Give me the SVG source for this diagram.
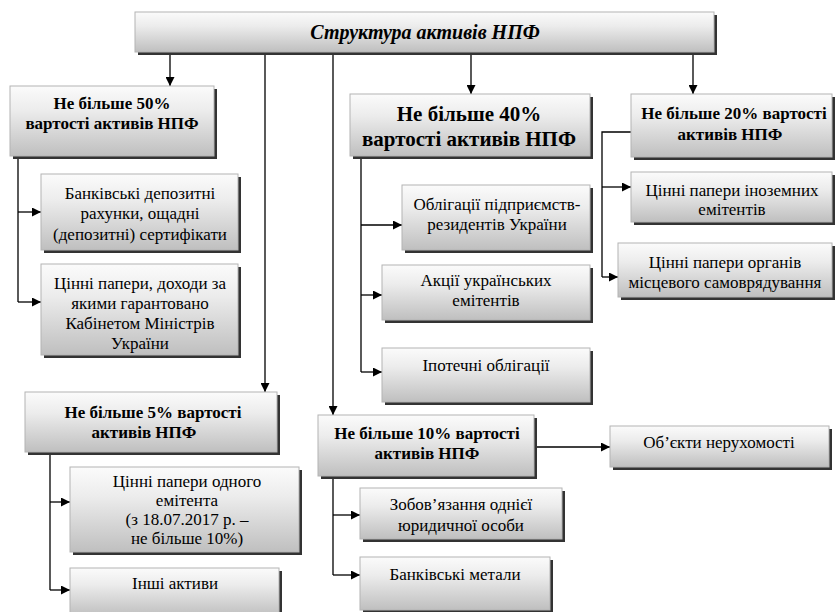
<svg xmlns="http://www.w3.org/2000/svg" width="839" height="612" viewBox="0 0 839 612">
  <defs>
    <linearGradient id="fillGrad" x1="0" y1="0" x2="0" y2="1">
      <stop offset="0" stop-color="#fbfbfb"/>
      <stop offset="0.35" stop-color="#ececec"/>
      <stop offset="1" stop-color="#bfbfbf"/>
    </linearGradient>
    <marker id="arr" markerUnits="userSpaceOnUse" markerWidth="10" markerHeight="9" refX="9" refY="4.5" orient="auto">
      <path d="M0,0 L9,4.5 L0,9 z" fill="#000"/>
    </marker>
  </defs>
  <style>
    .sh { fill: #333333; }
    .box { fill: url(#fillGrad); stroke: #b4b4b4; stroke-width: 1; }
    text { font-family: "Liberation Serif", "Times New Roman", serif; font-size: 17px; text-anchor: middle; fill: #000; }
    .hd { font-weight: bold; }
    .big { font-size: 21px; }
    .title { font-weight: bold; font-style: italic; font-size: 20px; }
    .conn path { stroke: #000; stroke-width: 1.3; fill: none; }
    .conn .a { marker-end: url(#arr); }
  </style>
  <rect width="839" height="612" fill="#ffffff"/>

  <!-- connectors -->
  <g id="connectors" class="conn">
    <!-- from the root box -->
    <path class="a" d="M170,52 V86"/>
    <path class="a" d="M265,52 V392"/>
    <path class="a" d="M333,52 V415"/>
    <path class="a" d="M471,52 V94"/>
    <path class="a" d="M693,52 V94"/>
    <!-- 50% group -->
    <path d="M18,156 V302"/>
    <path class="a" d="M18,212 H41"/>
    <path class="a" d="M18,302 H41"/>
    <!-- 40% group -->
    <path d="M361,156 V372"/>
    <path class="a" d="M361,225 H402"/>
    <path class="a" d="M361,295 H382"/>
    <path class="a" d="M361,372 H382"/>
    <!-- 20% group -->
    <path d="M631,132 H602 V277"/>
    <path class="a" d="M602,187 H631"/>
    <path class="a" d="M602,277 H618"/>
    <!-- 5% group -->
    <path d="M50,455 V590"/>
    <path class="a" d="M50,502 H70"/>
    <path class="a" d="M50,590 H70"/>
    <!-- 10% group -->
    <path class="a" d="M537,447 H610"/>
    <path d="M333,479 V575"/>
    <path class="a" d="M333,515 H360"/>
    <path class="a" d="M333,575 H360"/>
  </g>

  <!-- root -->
  <g id="root">
    <rect class="sh" x="138" y="15" width="579" height="40"/>
    <rect class="box" x="135" y="12" width="579" height="40"/>
    <text class="title" x="425" y="39">Структура активів НПФ</text>
  </g>

  <!-- up to 50% -->
  <g id="limit50">
    <rect class="sh" x="13" y="89" width="204" height="70"/>
    <rect class="box" x="10" y="86" width="204" height="70"/>
    <text class="hd" x="112" y="109">Не більше 50%</text>
    <text class="hd" x="112" y="129">вартості активів НПФ</text>
  </g>
  <g id="deposits">
    <rect class="sh" x="44" y="177" width="197" height="76"/>
    <rect class="box" x="41" y="174" width="197" height="76"/>
    <text x="140" y="199">Банківські депозитні</text>
    <text x="140" y="219">рахунки, ощадні</text>
    <text x="140" y="240">(депозитні) сертифікати</text>
  </g>
  <g id="govSecurities">
    <rect class="sh" x="44" y="267" width="197" height="91"/>
    <rect class="box" x="41" y="264" width="197" height="91"/>
    <text x="140" y="289">Цінні папери, доходи за</text>
    <text x="140" y="309">якими гарантовано</text>
    <text x="140" y="329">Кабінетом Міністрів</text>
    <text x="140" y="349">України</text>
  </g>

  <!-- up to 40% -->
  <g id="limit40">
    <rect class="sh" x="353" y="97" width="240" height="62"/>
    <rect class="box" x="350" y="94" width="240" height="62"/>
    <text class="hd big" x="469" y="121">Не більше 40%</text>
    <text class="hd big" x="469" y="146">вартості активів НПФ</text>
  </g>
  <g id="bonds">
    <rect class="sh" x="405" y="188" width="188" height="65"/>
    <rect class="box" x="402" y="185" width="188" height="65"/>
    <text x="497" y="210">Облігації підприємств-</text>
    <text x="497" y="230">резидентів України</text>
  </g>
  <g id="shares">
    <rect class="sh" x="385" y="268" width="208" height="55"/>
    <rect class="box" x="382" y="265" width="208" height="55"/>
    <text x="486" y="286">Акції українських</text>
    <text x="486" y="306">емітентів</text>
  </g>
  <g id="mortgage">
    <rect class="sh" x="385" y="351" width="208" height="54"/>
    <rect class="box" x="382" y="348" width="208" height="54"/>
    <text x="486" y="371">Іпотечні облігації</text>
  </g>

  <!-- up to 20% -->
  <g id="limit20">
    <rect class="sh" x="634" y="97" width="201" height="63"/>
    <rect class="box" x="631" y="94" width="201" height="63"/>
    <text class="hd" x="734" y="119">Не більше 20% вартості</text>
    <text class="hd" x="730" y="140">активів НПФ</text>
  </g>
  <g id="foreign">
    <rect class="sh" x="634" y="175" width="201" height="50"/>
    <rect class="box" x="631" y="172" width="201" height="50"/>
    <text x="732" y="196">Цінні папери іноземних</text>
    <text x="732" y="215">емітентів</text>
  </g>
  <g id="municipal">
    <rect class="sh" x="621" y="246" width="214" height="54"/>
    <rect class="box" x="618" y="243" width="214" height="54"/>
    <text x="725" y="268">Цінні папери органів</text>
    <text x="725" y="288">місцевого самоврядування</text>
  </g>

  <!-- up to 5% -->
  <g id="limit5">
    <rect class="sh" x="28" y="395" width="252" height="60"/>
    <rect class="box" x="25" y="392" width="252" height="60"/>
    <text class="hd" x="153" y="418">Не більше 5% вартості</text>
    <text class="hd" x="144" y="438">активів НПФ</text>
  </g>
  <g id="singleIssuer">
    <rect class="sh" x="73" y="470" width="229" height="85"/>
    <rect class="box" x="70" y="467" width="229" height="85"/>
    <text x="187" y="487">Цінні папери одного</text>
    <text x="187" y="506">емітента</text>
    <text x="187" y="525">(з 18.07.2017 р. –</text>
    <text x="187" y="544">не більше 10%)</text>
  </g>
  <g id="otherAssets">
    <rect class="sh" x="73" y="571" width="209" height="48"/>
    <rect class="box" x="70" y="568" width="209" height="48"/>
    <text x="175" y="589">Інші активи</text>
  </g>

  <!-- up to 10% -->
  <g id="limit10">
    <rect class="sh" x="321" y="418" width="216" height="61"/>
    <rect class="box" x="318" y="415" width="216" height="61"/>
    <text class="hd" x="427" y="439">Не більше 10% вартості</text>
    <text class="hd" x="427" y="459">активів НПФ</text>
  </g>
  <g id="realEstate">
    <rect class="sh" x="613" y="429" width="219" height="41"/>
    <rect class="box" x="610" y="426" width="219" height="41"/>
    <text x="719" y="448">Об’єкти нерухомості</text>
  </g>
  <g id="obligations">
    <rect class="sh" x="363" y="491" width="202" height="51"/>
    <rect class="box" x="360" y="488" width="202" height="51"/>
    <text x="461" y="510">Зобов’язання однієї</text>
    <text x="461" y="531">юридичної особи</text>
  </g>
  <g id="metals">
    <rect class="sh" x="363" y="560" width="190" height="53"/>
    <rect class="box" x="360" y="557" width="190" height="53"/>
    <text x="455" y="580">Банківські метали</text>
  </g>
</svg>
